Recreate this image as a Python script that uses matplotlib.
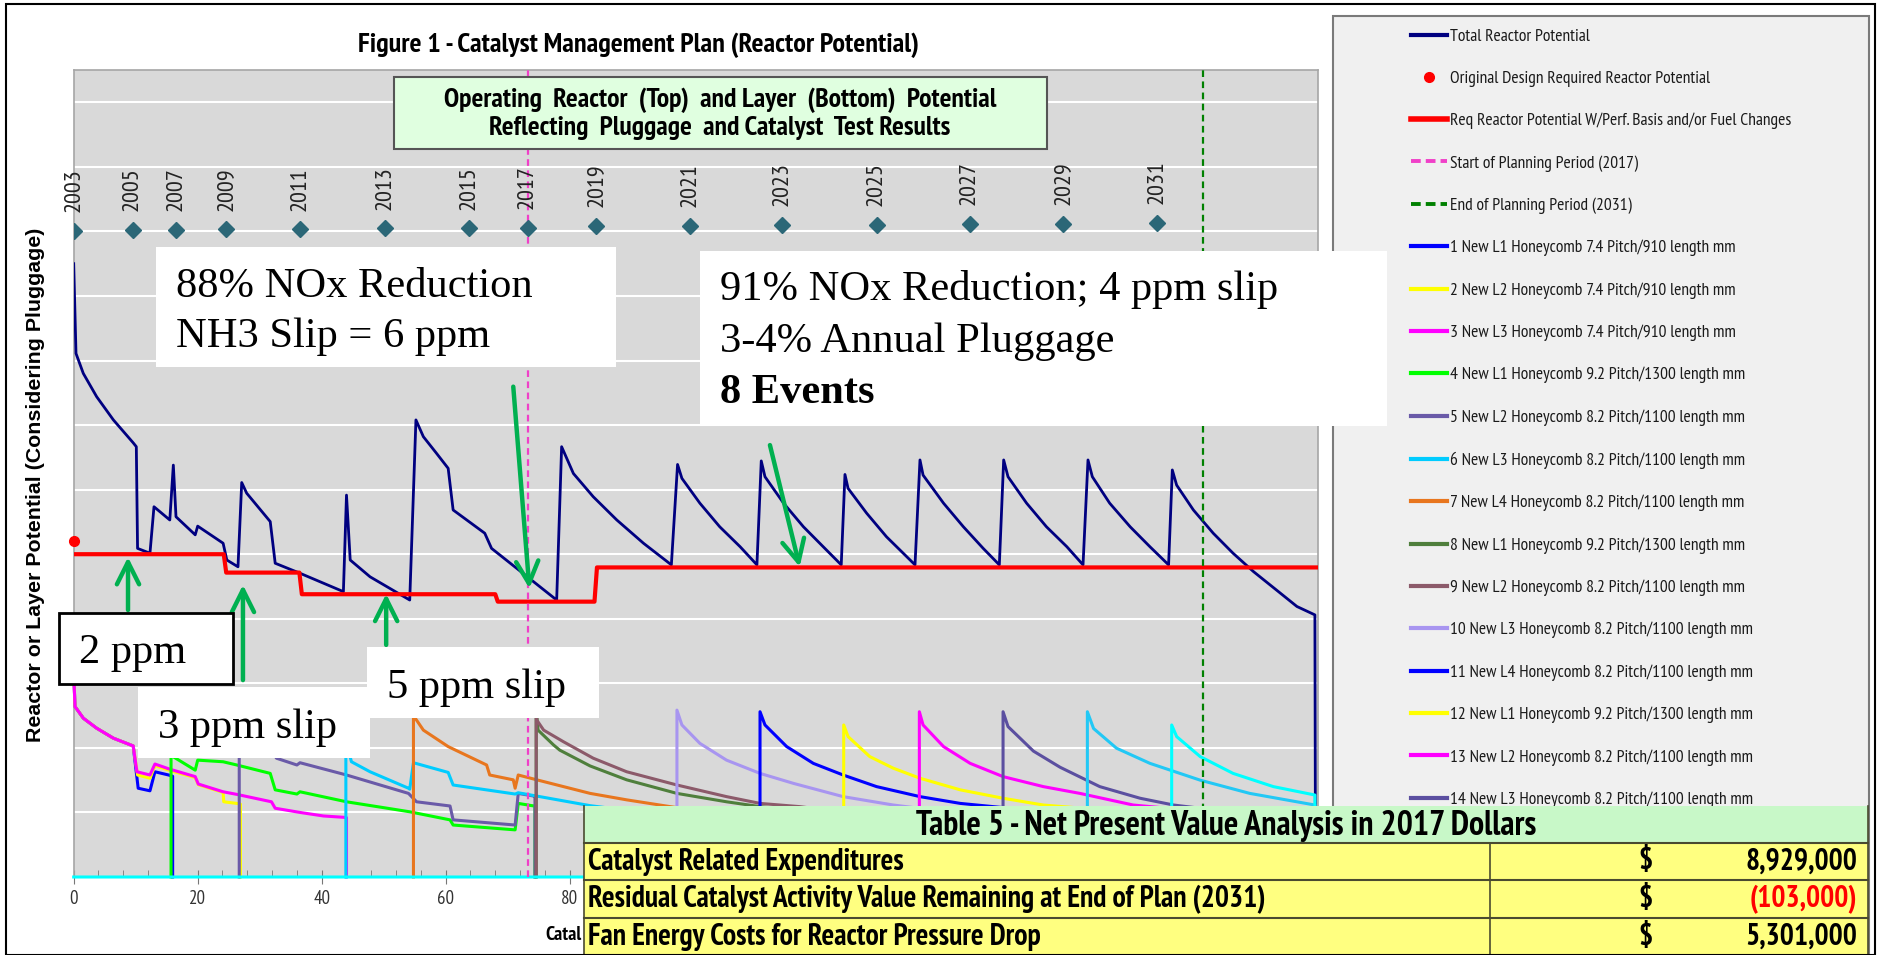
import numpy as np
import matplotlib
matplotlib.use('Agg')
from matplotlib import pyplot as plt
from matplotlib import font_manager
from matplotlib.patches import Rectangle
from matplotlib.lines import Line2D

# ---- data (x = catalyst age in thousand hours, y = reactor / layer potential) ----
total_x = [0, 0.37, 1.55, 3.7, 6.4, 9.6, 10.1, 10.3, 12.3, 12.95, 15.5, 16.07, 16.5, 19.6, 20.0,
           24.1, 24.7, 26.5, 27.1, 27.9, 31.7, 32.5, 36.5, 43.5, 44.0, 44.6, 47.8, 54.2, 55.2,
           56.4, 58.5, 60.4, 61.2, 66.3, 67.4, 77.9, 78.7, 80.6, 83.8, 87.6, 91.9, 96.4, 97.4,
           98.1, 101.0, 104.2, 107.5, 110.2, 110.9, 111.5, 114.5, 117.7, 120.9, 123.8, 124.4,
           124.9, 127.9, 131.1, 133.8, 135.7, 136.5, 137.0, 140.3, 143.5, 146.7, 149.3, 150.0,
           150.7, 153.7, 156.9, 160.2, 162.8, 163.6, 164.3, 167.1, 170.4, 173.6, 176.6, 177.2,
           177.9, 180.6, 183.8, 187.0, 190.3, 194.0, 197.3, 200.2, 200.3]
total_y = [1.90, 1.622, 1.560, 1.488, 1.416, 1.345, 1.333, 1.018, 1.003, 1.147, 1.106, 1.276, 1.116,
           1.060, 1.087, 1.034, 0.982, 0.961, 1.222, 1.189, 1.101, 0.972, 0.941, 0.884, 1.183,
           0.982, 0.930, 0.858, 1.416, 1.364, 1.313, 1.266, 1.137, 1.065, 1.018, 0.858, 1.333,
           1.250, 1.178, 1.106, 1.034, 0.967, 1.278, 1.235, 1.158, 1.085, 1.023, 0.967, 1.289,
           1.240, 1.158, 1.085, 1.023, 0.967, 1.247, 1.204, 1.127, 1.054, 1.003, 0.967, 1.292,
           1.245, 1.158, 1.085, 1.018, 0.967, 1.292, 1.240, 1.158, 1.085, 1.023, 0.967, 1.292,
           1.240, 1.158, 1.085, 1.023, 0.967, 1.261, 1.214, 1.137, 1.065, 1.003, 0.946, 0.889,
           0.838, 0.812, 0.0]

design_x = [0]
design_y = [1.04]

req_x = [0, 24.2, 24.6, 36.4, 36.8, 68.0, 68.4, 84.0, 84.4, 200.7]
req_y = [1.0, 1.0, 0.943, 0.943, 0.876, 0.876, 0.853, 0.853, 0.959, 0.959]

start_2017 = 73.2
end_2031 = 182.1

l1_x = [0, 0.21, 1.55, 3.7, 6.4, 9.6, 10.4, 12.3, 13.1, 15.3, 15.96, 15.96]
l1_y = [0.633, 0.528, 0.492, 0.461, 0.430, 0.406, 0.275, 0.267, 0.326, 0.316, 0.312, 0.0]
l2_x = [0, 0.21, 1.55, 3.7, 6.4, 9.6, 10.3, 12.3, 13.1, 15.5, 19.6, 20.1, 24.1, 24.2, 26.3, 26.9, 26.9]
l2_y = [0.633, 0.528, 0.492, 0.461, 0.430, 0.406, 0.316, 0.306, 0.345, 0.330, 0.308, 0.286,
        0.262, 0.233, 0.228, 0.226, 0.0]
l3_x = [0, 0.21, 1.55, 3.7, 6.4, 9.6, 10.2, 12.3, 13.1, 15.5, 19.6, 20.1, 24.1, 26.3, 31.9, 32.5,
        36.5, 40.3, 43.5, 44.0, 44.0]
l3_y = [0.633, 0.528, 0.492, 0.461, 0.430, 0.406, 0.326, 0.316, 0.350, 0.334, 0.311, 0.288,
        0.264, 0.256, 0.233, 0.213, 0.200, 0.189, 0.185, 0.184, 0.0]
l4_x = [15.7, 15.7, 16.1, 19.6, 20.0, 24.1, 26.3, 31.7, 32.5, 36.0, 36.5, 44.0, 54.2, 60.7, 61.2,
        71.2, 71.7, 73.9, 74.4, 74.4]
l4_y = [0.0, 0.45, 0.372, 0.331, 0.362, 0.357, 0.347, 0.321, 0.270, 0.257, 0.264, 0.233, 0.202,
        0.177, 0.161, 0.146, 0.228, 0.221, 0.220, 0.0]
l5_x = [26.7, 26.7, 27.9, 31.7, 32.7, 36.0, 36.5, 44.0, 54.0, 55.3, 60.7, 61.2, 71.2, 71.7, 74.1,
        74.4, 74.4]
l5_y = [0.0, 0.49, 0.46, 0.40, 0.368, 0.347, 0.354, 0.316, 0.259, 0.233, 0.220, 0.177, 0.161,
        0.259, 0.251, 0.250, 0.0]
l6_x = [43.9, 43.9, 44.2, 44.8, 47.8, 54.0, 54.2, 54.8, 60.4, 61.2, 71.2, 71.7, 83.3, 96.0, 110.7, 110.7]
l6_y = [0.0, 0.50, 0.40, 0.357, 0.326, 0.275, 0.272, 0.354, 0.324, 0.285, 0.257, 0.261, 0.221,
        0.19, 0.16, 0.0]
l7_x = [54.8, 54.8, 55.3, 56.4, 60.4, 66.6, 67.1, 70.9, 71.2, 71.7, 74.7, 79.0, 83.3, 89.2, 96.2,
        97.3, 97.3]
l7_y = [0.0, 0.50, 0.486, 0.455, 0.404, 0.347, 0.316, 0.301, 0.275, 0.316, 0.301, 0.280, 0.259,
        0.239, 0.218, 0.215, 0.0]
l8_x = [74.6, 74.6, 74.9, 77.4, 78.4, 83.3, 89.2, 97.3, 105.3, 110.7, 124.2, 124.2]
l8_y = [0.0, 0.52, 0.455, 0.409, 0.393, 0.344, 0.301, 0.259, 0.233, 0.218, 0.19, 0.0]
l9_x = [74.6, 74.6, 74.7, 75.8, 79.0, 83.8, 89.2, 97.3, 105.3, 110.7, 117.1, 136.4, 136.4]
l9_y = [0.0, 0.52, 0.486, 0.455, 0.419, 0.368, 0.326, 0.285, 0.249, 0.228, 0.218, 0.17, 0.0]
l10_x = [97.3, 97.3, 98.1, 101.0, 105.3, 110.7, 116.1, 124.1, 132.2, 149.9, 149.9]
l10_y = [0.0, 0.517, 0.471, 0.414, 0.362, 0.321, 0.290, 0.249, 0.223, 0.18, 0.0]
l11_x = [110.7, 110.7, 111.5, 115.0, 119.3, 124.1, 129.5, 136.5, 143.0, 148.3, 163.5, 163.5]
l11_y = [0.0, 0.512, 0.471, 0.404, 0.352, 0.316, 0.280, 0.249, 0.228, 0.218, 0.19, 0.0]
l12_x = [124.2, 124.2, 124.9, 128.4, 132.2, 136.5, 143.0, 149.9, 156.4, 177.1, 177.1]
l12_y = [0.0, 0.471, 0.435, 0.373, 0.337, 0.306, 0.270, 0.244, 0.223, 0.19, 0.0]
l13_x = [136.4, 136.4, 137.0, 140.3, 144.6, 149.9, 156.4, 162.3, 170.9, 200.2, 200.2]
l13_y = [0.0, 0.512, 0.471, 0.404, 0.352, 0.311, 0.280, 0.259, 0.223, 0.17, 0.0]
l14_x = [149.9, 149.9, 150.7, 154.8, 159.1, 165.5, 172.0, 177.4, 200.2, 200.2]
l14_y = [0.0, 0.512, 0.466, 0.390, 0.340, 0.280, 0.244, 0.223, 0.17, 0.0]
l15_x = [163.5, 163.5, 164.5, 168.2, 173.6, 181.7, 189.7, 200.2, 200.2]
l15_y = [0.0, 0.512, 0.460, 0.399, 0.352, 0.300, 0.259, 0.223, 0.0]
l16_x = [0, 177.1, 177.1, 177.9, 181.7, 187.0, 193.5, 200.2, 200.2]
l16_y = [0.0, 0.0, 0.471, 0.435, 0.373, 0.321, 0.280, 0.254, 0.0]

layer_labels = [
    '1 New L1 Honeycomb 7.4 Pitch/910 length mm',
    '2 New L2 Honeycomb 7.4 Pitch/910 length mm',
    '3 New L3 Honeycomb 7.4 Pitch/910 length mm',
    '4 New L1 Honeycomb 9.2 Pitch/1300 length mm',
    '5 New L2 Honeycomb 8.2 Pitch/1100 length mm',
    '6 New L3 Honeycomb 8.2 Pitch/1100 length mm',
    '7 New L4 Honeycomb 8.2 Pitch/1100 length mm',
    '8 New L1 Honeycomb 9.2 Pitch/1300 length mm',
    '9 New L2 Honeycomb 8.2 Pitch/1100 length mm',
    '10 New L3 Honeycomb 8.2 Pitch/1100 length mm',
    '11 New L4 Honeycomb 8.2 Pitch/1100 length mm',
    '12 New L1 Honeycomb 9.2 Pitch/1300 length mm',
    '13 New L2 Honeycomb 8.2 Pitch/1100 length mm',
    '14 New L3 Honeycomb 8.2 Pitch/1100 length mm',
    '15 New L4 Honeycomb 8.2 Pitch/1100 length mm',
    '16 New L1 Honeycomb 9.2 Pitch/1300 length mm',
]
layer_colors = ['#0000ff', '#ffff00', '#ff00ff', '#00ff00', '#6a5aa8', '#00ccff', '#e8761e',
                '#4f7f3c', '#8c5a6a', '#a895f0', '#0000ff', '#ffff00', '#ff00ff', '#5b4fa0',
                '#22c8f5', '#00ffff']

years = ['2003', '2005', '2007', '2009', '2011', '2013', '2015', '2017', '2019', '2021',
         '2023', '2025', '2027', '2029', '2031']
year_x = [0, 9.5, 16.5, 24.6, 36.5, 50.2, 63.7, 73.2, 84.2, 99.4, 114.3, 129.5, 144.5, 159.6, 174.7]
year_y = [2.002, 2.004, 2.004, 2.006, 2.006, 2.009, 2.009, 2.011, 2.017, 2.017, 2.020, 2.020,
          2.024, 2.024, 2.027]

arrow_tail_x = [8.76, 27.3, 50.4, 70.9, 112.3]
arrow_tail_y = [0.827, 0.61, 0.719, 1.519, 1.338]
arrow_head_x = [8.76, 27.3, 50.4, 73.5, 117.1]
arrow_head_y = [0.991, 0.905, 0.877, 0.894, 0.961]

npv_items = ['Catalyst Related Expenditures',
             'Residual Catalyst Activity Value Remaining at End of Plan (2031)',
             'Fan Energy Costs for Reactor Pressure Drop']
npv_values = ['8,929,000', '(103,000)', '5,301,000']
npv_colors = ['black', '#ff0000', 'black']

# ---- fonts: prefer a narrow grotesque that has a real bold face ----
weights = {}
for f in font_manager.fontManager.ttflist:
    w = f.weight if isinstance(f.weight, int) else (700 if 'bold' in str(f.weight) else 400)
    weights.setdefault(f.name, set()).add(w)
cands = ['Liberation Sans Narrow', 'Arial Narrow', 'PT Sans Narrow', 'IBM Plex Sans Condensed',
         'Fira Sans Condensed', 'Asap Condensed', 'Roboto Condensed', 'Archivo Narrow']
with_bold = [c for c in cands if c in weights and max(weights[c]) >= 600]
present = [c for c in cands if c in weights]
NARROW = (with_bold or present or ['Liberation Sans'])[0]
SANS = 'Liberation Sans'
SERIF = 'Liberation Serif'

W, H = 1879, 955


def fx(px):
    return px / W


def fy(py):
    return 1 - py / H


fig = plt.figure(figsize=(W / 100, H / 100), dpi=100)
fig.patch.set_facecolor('white')
renderer = fig.canvas.get_renderer()


def size_for(s, width_px, family, weight='normal'):
    # font size that makes string s span width_px pixels
    t = fig.text(0, 0, s, fontsize=10, family=family, weight=weight)
    w = t.get_window_extent(renderer).width
    t.remove()
    return 10 * width_px / w


ax = fig.add_axes([fx(73.7), fy(877), (1318 - 73.7) / W, (877 - 70) / H])
ax.set_facecolor('#d9d9d9')
ax.set_xlim(0, 200.7)
ax.set_ylim(0, 2.5)
ax.set_yticks(np.arange(0.2, 2.45, 0.2))
ax.yaxis.grid(True, color='white', lw=1.5)
ax.set_axisbelow(True)
ax.tick_params(axis='y', length=0, labelleft=False)
xt = np.arange(0, 201, 20)
ax.set_xticks(xt)
ax.set_xticklabels([f'{v}' if v <= 80 else '' for v in xt])
ax.set_xticks(np.arange(0, 201, 4), minor=True)
tick_fs = size_for('20', 17, NARROW)
ax.tick_params(axis='x', which='major', direction='inout', length=10, color='#777777',
               labelsize=tick_fs, labelcolor='#333333', pad=4)
ax.tick_params(axis='x', which='minor', direction='in', length=5, color='#777777')
for lab in ax.get_xticklabels():
    lab.set_family(NARROW)
for s in ax.spines.values():
    s.set_color('#a6a6a6')
    s.set_linewidth(1.2)

h_total, = ax.plot(total_x, total_y, color='#000080', lw=2.0, zorder=3,
                   label='Total Reactor Potential')
h_req, = ax.plot(req_x, req_y, color='#ff0000', lw=3.0, zorder=4,
                 label='Req Reactor Potential W/Perf. Basis and/or Fuel Changes')
h_design, = ax.plot(design_x, design_y, 'o', color='#ff0000', ms=7, zorder=9, clip_on=False,
                    label='Original Design Required Reactor Potential')

layer_data = [(l1_x, l1_y), (l2_x, l2_y), (l3_x, l3_y), (l4_x, l4_y), (l5_x, l5_y),
              (l6_x, l6_y), (l7_x, l7_y), (l8_x, l8_y), (l9_x, l9_y), (l10_x, l10_y),
              (l11_x, l11_y), (l12_x, l12_y), (l13_x, l13_y), (l14_x, l14_y),
              (l15_x, l15_y), (l16_x, l16_y)]
for (lx, ly), c, lab in zip(layer_data, layer_colors, layer_labels):
    ax.plot(lx, ly, color=c, lw=2.2, zorder=5, label=lab, clip_on=False)

h_start = ax.axvline(start_2017, color='#f040c8', lw=1.6, ls=(0, (3, 2)), zorder=6,
                     label='Start of Planning Period (2017)')
h_end = ax.axvline(end_2031, color='#008000', lw=1.6, ls=(0, (3, 2)), zorder=6,
                   label='End of Planning Period (2031)')

# year markers along the top
year_fs = size_for('2003', 44, NARROW)
ax.plot(year_x, year_y, 'D', color='#2b6777', ms=8, ls='none', zorder=7)
for yr, xx, yy in zip(years, year_x, year_y):
    ax.text(xx, yy + 0.058, yr, rotation=90, ha='center', va='bottom',
            fontsize=year_fs, family=NARROW, color='#222222', zorder=7)

# green call-out arrows
for tx, ty, hx, hy in zip(arrow_tail_x, arrow_tail_y, arrow_head_x, arrow_head_y):
    ax.annotate('', xy=(hx, hy), xytext=(tx, ty),
                arrowprops=dict(arrowstyle='->,head_length=0.8,head_width=0.4',
                                color='#00b050', lw=3.2, shrinkA=0, shrinkB=0,
                                mutation_scale=20),
                zorder=8)

# titles and axis labels (the x label runs in under the NPV table)
title = 'Figure 1 - Catalyst Management Plan (Reactor Potential)'
fig.text(fx(638), fy(45), title, ha='center', va='center',
         fontsize=size_for(title, 563, NARROW, 'bold'), weight='bold', family=NARROW)
ylab = 'Reactor or Layer Potential (Considering Pluggage)'
fig.text(fx(36), fy(485), ylab, rotation=90, ha='center', va='center',
         fontsize=size_for(ylab, 515, SANS, 'bold'), weight='bold', family=SANS)
fig.text(fx(545), fy(935), 'Catal', ha='left', va='center',
         fontsize=size_for('Catal', 36, NARROW, 'bold'), weight='bold', family=NARROW, zorder=2)

# green heading box inside the plot
fig.add_artist(Rectangle((fx(394), fy(149)), (1047 - 394) / W, (149 - 77) / H,
                         transform=fig.transFigure, facecolor='#e0ffe0', edgecolor='#555555',
                         lw=1.5, zorder=15))
head1 = 'Operating  Reactor  (Top)  and Layer  (Bottom)  Potential'
head2 = 'Reflecting  Pluggage  and Catalyst  Test Results'
head_fs = size_for(head1, 556, NARROW, 'bold')
fig.text(fx(720), fy(100), head1, ha='center', va='center', fontsize=head_fs, weight='bold',
         family=NARROW, zorder=16)
fig.text(fx(720), fy(128), head2, ha='center', va='center', fontsize=head_fs, weight='bold',
         family=NARROW, zorder=16)

# legend panel (entries 15 and 16 sit under the NPV table, so they are left out)
fig.add_artist(Rectangle((fx(1333), fy(955)), (1869 - 1333) / W, (955 - 16) / H,
                         transform=fig.transFigure, facecolor='#f0f0f0', edgecolor='#7a7a7a',
                         lw=1.5, zorder=11))
proxies = [Line2D([], [], color='#000080', lw=3.0),
           Line2D([], [], ls='none', marker='o', color='#ff0000', ms=7),
           Line2D([], [], color='#ff0000', lw=4.0),
           Line2D([], [], color='#f040c8', lw=2.8, ls=(0, (2.5, 1.3))),
           Line2D([], [], color='#008000', lw=2.8, ls=(0, (2.5, 1.3)))]
proxies += [Line2D([], [], color=c, lw=3.0) for c in layer_colors[:14]]
labels = [h_total.get_label(), h_design.get_label(), h_req.get_label(), h_start.get_label(),
          h_end.get_label()] + layer_labels[:14]
leg_fs = size_for(h_req.get_label(), 342, NARROW)
leg_px = leg_fs * 100 / 72
row_pitch, first_row = 42.4, 36.7


def make_legend(spacing, top):
    lg = fig.legend(handles=proxies, labels=labels,
                    loc='upper left', bbox_to_anchor=(fx(1411), fy(top)), frameon=False,
                    prop=dict(family=NARROW, size=leg_fs), handlelength=36 / leg_px,
                    handletextpad=3 / leg_px, labelspacing=spacing, borderpad=0,
                    borderaxespad=0)
    lg.set_zorder(12)
    for t in lg.get_texts():
        t.set_color('#1a1a1a')
    return lg


spacing, top = 1.4, 27
leg = make_legend(spacing, top)
fig.canvas.draw()
ext = [t.get_window_extent(renderer) for t in leg.get_texts()]
pitch = (ext[0].y0 - ext[-1].y0) / (len(ext) - 1)
spacing += (row_pitch - pitch) / leg_px
leg.remove()
leg = make_legend(spacing, top)
fig.canvas.draw()
e0 = leg.get_texts()[0].get_window_extent(renderer)
top -= (H - first_row) - (e0.y0 + e0.y1) / 2
leg.remove()
leg = make_legend(spacing, top)

# white annotation boxes
note_fs = size_for('91% NOx Reduction; 4 ppm slip', 560, SERIF)


def note_box(x0, y0, x1, y1, edge=None):
    fig.add_artist(Rectangle((fx(x0), fy(y1)), (x1 - x0) / W, (y1 - y0) / H,
                             transform=fig.transFigure, facecolor='white',
                             edgecolor=edge if edge else 'none', lw=2 if edge else 0,
                             zorder=20))


def note_text(x, y, s, weight='normal'):
    fig.text(fx(x), fy(y), s, ha='left', va='baseline', fontsize=note_fs, family=SERIF,
             weight=weight, color='black', zorder=21)


note_box(156, 247, 616, 367)
note_text(176, 297, '88% NOx Reduction')
note_text(176, 347, 'NH3 Slip = 6 ppm')

note_box(700, 251, 1387, 426)
note_text(720, 300, '91% NOx Reduction; 4 ppm slip')
note_text(720, 352, '3-4% Annual Pluggage')
note_text(720, 403, '8 Events', weight='bold')

note_box(59, 613, 233, 684, edge='black')
note_text(79, 663, '2 ppm')

note_box(138, 687, 370, 758)
note_text(158, 738, '3 ppm slip')

note_box(367, 647, 599, 718)
note_text(387, 698, '5 ppm slip')

# NPV table in the lower right corner
tx0, tx1, tsplit = 584, 1868, 1490
row_edges = [806, 843, 880, 918, 955]
fig.add_artist(Rectangle((fx(tx0), fy(row_edges[1])), (tx1 - tx0) / W,
                         (row_edges[1] - row_edges[0]) / H, transform=fig.transFigure,
                         facecolor='#c8f8c8', edgecolor='none', zorder=30))
fig.add_artist(Rectangle((fx(tx0), fy(row_edges[4])), (tx1 - tx0) / W,
                         (row_edges[4] - row_edges[1]) / H, transform=fig.transFigure,
                         facecolor='#ffff80', edgecolor='none', zorder=30))
for ry in row_edges[1:4]:
    fig.add_artist(Line2D([fx(tx0), fx(tx1)], [fy(ry), fy(ry)], transform=fig.transFigure,
                          color='#4a4a30', lw=1.5, zorder=31))
for vx, vtop in [(tsplit, row_edges[1]), (tx0, row_edges[0]), (tx1, row_edges[0])]:
    fig.add_artist(Line2D([fx(vx), fx(vx)], [fy(vtop), fy(955)], transform=fig.transFigure,
                          color='#4a4a30', lw=1.2, zorder=31))
table_title = 'Table 5 - Net Present Value Analysis in 2017 Dollars'
fig.text(fx((tx0 + tx1) / 2), fy(826), table_title, ha='center', va='center',
         fontsize=size_for(table_title, 622, NARROW, 'bold'), weight='bold', family=NARROW,
         zorder=32)
row_fs = size_for(npv_items[1], 680, NARROW, 'bold')
for i, (item, val, col) in enumerate(zip(npv_items, npv_values, npv_colors)):
    cy = (row_edges[i + 1] + row_edges[i + 2]) / 2
    fig.text(fx(588), fy(cy), item, ha='left', va='center', fontsize=row_fs, weight='bold',
             family=NARROW, zorder=32)
    fig.text(fx(1646), fy(cy), '$', ha='center', va='center', fontsize=row_fs,
             weight='bold', family=NARROW, zorder=32)
    fig.text(fx(1857), fy(cy), val, ha='right', va='center', fontsize=row_fs,
             weight='bold', family=NARROW, color=col, zorder=32)

# outer frame
fig.add_artist(Rectangle((fx(6), fy(955)), (1875 - 6) / W, (955 - 4) / H,
                         transform=fig.transFigure, facecolor='none', edgecolor='black',
                         lw=1.5, zorder=40))

fig.savefig('out.png', dpi=100)
